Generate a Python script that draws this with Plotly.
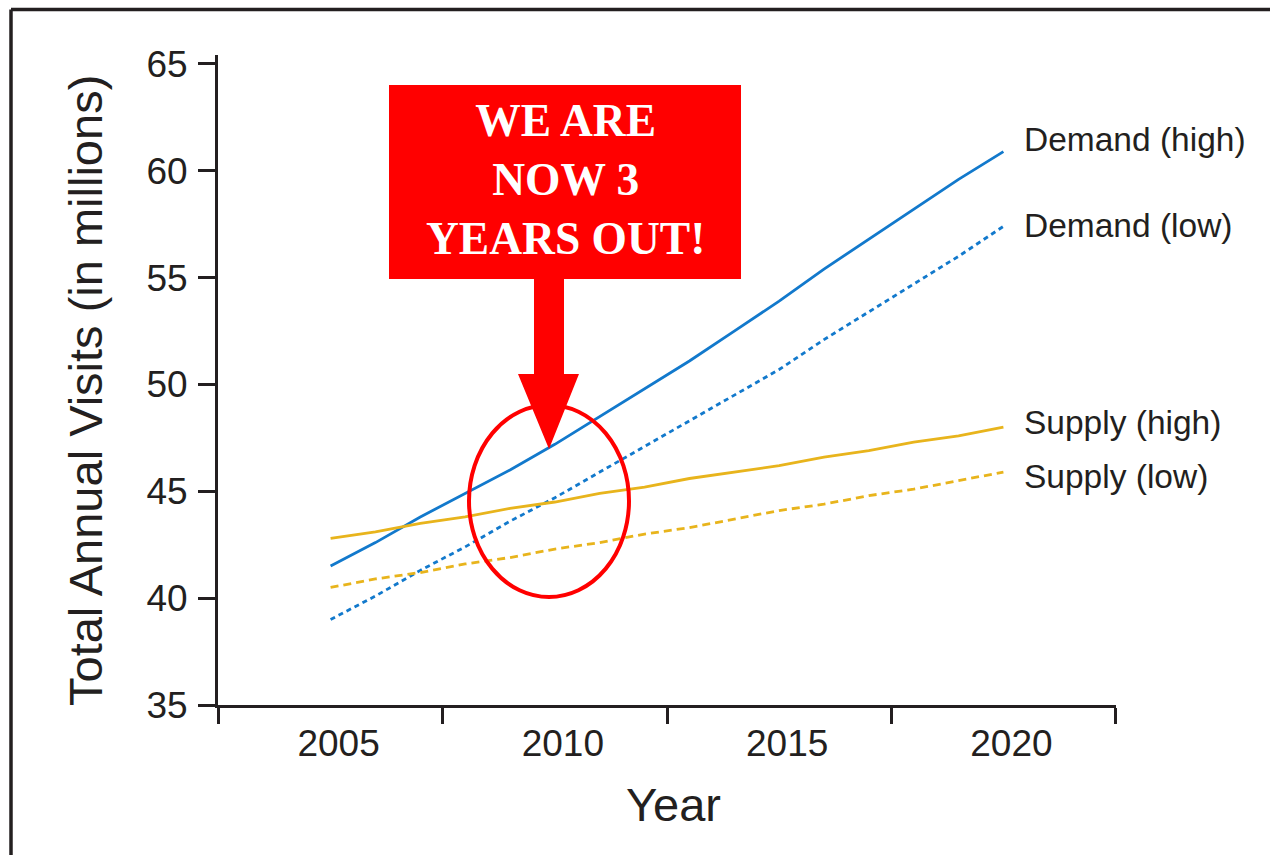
import plotly.graph_objects as go

years = list(range(2005, 2021))
demand_high = [41.5, 42.6, 43.8, 44.9, 46.0, 47.2, 48.5, 49.8, 51.1, 52.5, 53.9, 55.4, 56.8, 58.2, 59.6, 60.9]
demand_low = [39.0, 40.1, 41.3, 42.4, 43.6, 44.7, 45.9, 47.1, 48.3, 49.5, 50.7, 52.1, 53.4, 54.7, 56.0, 57.4]
supply_high = [42.8, 43.1, 43.5, 43.8, 44.2, 44.5, 44.9, 45.2, 45.6, 45.9, 46.2, 46.6, 46.9, 47.3, 47.6, 48.0]
supply_low = [40.5, 40.9, 41.2, 41.6, 41.9, 42.3, 42.6, 43.0, 43.3, 43.7, 44.1, 44.4, 44.8, 45.1, 45.5, 45.9]

series_names = ["Demand (high)", "Demand (low)", "Supply (high)", "Supply (low)"]
series_values = [demand_high, demand_low, supply_high, supply_low]

x_tick_vals = [2005, 2010, 2015, 2020]
x_tick_text = ["2005", "2010", "2015", "2020"]
y_tick_vals = [35, 40, 45, 50, 55, 60, 65]

callout_text = "WE ARE<br>NOW 3<br>YEARS OUT!"

BLUE = "#1279cc"
GOLD = "#e8b41c"
INK = "#231f20"
RED = "#ff0000"

styles = [
    dict(color=BLUE, width=2.8, dash="solid"),
    dict(color=BLUE, width=2.8, dash="5px,4px"),
    dict(color=GOLD, width=2.8, dash="solid"),
    dict(color=GOLD, width=2.8, dash="8px,5px"),
]
label_yshift = [12, 1, 5, -4]

W, H = 1270, 855
L, R, T, B = 218, 154, 55, 150
PW, PH = W - L - R, H - T - B


def px(x):
    return (x - L) / PW


def py(y):
    return (H - B - y) / PH


def make_title_font(size):
    base = dict(family="DejaVu Sans", size=size, color=INK)
    try:
        go.layout.annotation.Font(stretch="condensed")
        base["stretch"] = "condensed"
    except Exception:
        base = dict(family="Liberation Sans, Arial, sans-serif", size=47, color=INK)
    return base


fig = go.Figure()
for name, vals, st in zip(series_names, series_values, styles):
    fig.add_trace(go.Scatter(x=years, y=vals, mode="lines", name=name, line=st,
                             hoverinfo="skip"))

for name, vals, ys in zip(series_names, series_values, label_yshift):
    fig.add_annotation(x=years[-1], y=vals[-1], xref="x", yref="y", text=name,
                       showarrow=False, xanchor="left", yanchor="middle",
                       xshift=19, yshift=ys,
                       font=dict(family="Liberation Sans, Arial, sans-serif", size=33.5, color=INK))

fig.update_xaxes(range=[2002.49, 2022.51], tickvals=x_tick_vals, ticktext=x_tick_text,
                 ticks="", showline=True, linecolor=INK, linewidth=3, showgrid=False,
                 zeroline=False, ticklabelshift=8, ticklabelstandoff=4,
                 tickfont=dict(family="Liberation Sans, Arial, sans-serif", size=37, color=INK),
                 minor=dict(tick0=2002.5, dtick=5, ticks="outside", ticklen=16, tickwidth=3,
                            tickcolor=INK, showgrid=False))
fig.update_yaxes(range=[35, 65.42], tickvals=y_tick_vals, ticks="outside", ticklen=17,
                 tickwidth=3, tickcolor=INK, showline=True, linecolor=INK, linewidth=3,
                 showgrid=False, zeroline=False, ticklabelstandoff=3,
                 tickfont=dict(family="Liberation Sans, Arial, sans-serif", size=37, color=INK))

title_font = make_title_font(53.5)
fig.add_annotation(x=px(85), y=py(391), xref="paper", yref="paper",
                   text="Total Annual Visits (in millions)", textangle=-90, showarrow=False,
                   xanchor="center", yanchor="middle", font=title_font)
fig.add_annotation(x=px(673), y=py(805), xref="paper", yref="paper", text="Year",
                   showarrow=False, xanchor="center", yanchor="middle", font=title_font)

shapes = []
# outer frame (top and left edges)
shapes.append(dict(type="line", xref="paper", yref="paper", x0=px(11), y0=py(9.5), x1=px(1290), y1=py(9.5),
                   line=dict(color=INK, width=3.5)))
shapes.append(dict(type="line", xref="paper", yref="paper", x0=px(11), y0=py(9.5), x1=px(11), y1=py(870),
                   line=dict(color=INK, width=3.5)))
# callout box
shapes.append(dict(type="rect", xref="paper", yref="paper", x0=px(389), x1=px(741), y0=py(279), y1=py(85),
                   fillcolor=RED, line=dict(width=0), layer="above"))
# arrow
pts = [(534, 278), (564, 278), (564, 374), (579, 374), (549, 449), (518, 374), (534, 374)]
path = "M " + " L ".join(f"{px(a):.5f},{py(b):.5f}" for a, b in pts) + " Z"
shapes.append(dict(type="path", xref="paper", yref="paper", path=path, fillcolor=RED,
                   line=dict(width=0), layer="above"))
# ellipse
shapes.append(dict(type="circle", xref="paper", yref="paper", x0=px(469), x1=px(629), y0=py(597), y1=py(405),
                   line=dict(color=RED, width=4), layer="above"))

fig.add_annotation(x=px(565), y=py(179), xref="paper", yref="paper", text=callout_text,
                   showarrow=False, xanchor="center", yanchor="middle",
                   font=dict(family="Liberation Serif, Times New Roman, serif", size=45.5, color="white",
                             weight="bold"))

fig.update_layout(width=W, height=H, margin=dict(l=L, r=R, t=T, b=B, autoexpand=False),
                  plot_bgcolor="white", paper_bgcolor="white", showlegend=False, shapes=shapes,
                  hovermode=False)

fig.write_html("out.html", config={"displayModeBar": False, "staticPlot": True},
               post_script="document.body.style.margin='0';document.body.style.overflow='hidden';")
